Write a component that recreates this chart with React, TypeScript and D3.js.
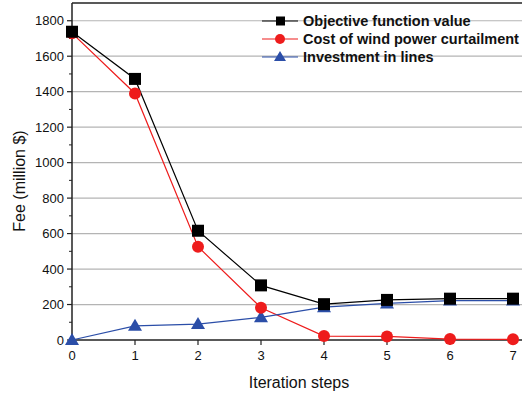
import { scaleLinear, line, range } from "d3";

const steps = [0, 1, 2, 3, 4, 5, 6, 7];
const objectiveValue = [1738, 1472, 616, 308, 202, 226, 233, 233];
const windCurtailment = [1730, 1390, 526, 182, 22, 20, 5, 4];
const lineInvestment = [0, 80, 90, 128, 185, 206, 222, 222];
const yTicks = [0, 200, 400, 600, 800, 1000, 1200, 1400, 1600, 1800];
const seriesNames = [
  "Objective function value",
  "Cost of wind power curtailment",
  "Investment in lines",
];

const W = 522;
const H = 396;
const left = 72;
const top = 3;
const bottom = 340;

export default function App() {
  const x = scaleLinear().domain([0, 7]).range([left, 513]);
  const y = scaleLinear().domain([0, 1900]).range([bottom, top]);

  const series = [
    { name: seriesNames[0], values: objectiveValue, color: "#000000", marker: "square" },
    { name: seriesNames[1], values: windCurtailment, color: "#ee1c1c", marker: "circle" },
    { name: seriesNames[2], values: lineInvestment, color: "#2b4ea8", marker: "triangle" },
  ];

  const path = line<number>()
    .x((_, i) => x(steps[i]))
    .y((d) => y(d));

  const marker = (kind: string, cx: number, cy: number, color: string, key: string) => {
    if (kind === "square")
      return <rect key={key} x={cx - 6} y={cy - 6} width={12} height={12} fill={color} />;
    if (kind === "circle") return <circle key={key} cx={cx} cy={cy} r={6} fill={color} />;
    return (
      <path
        key={key}
        d={`M${cx},${cy - 7}L${cx + 7},${cy + 5}L${cx - 7},${cy + 5}Z`}
        fill={color}
      />
    );
  };

  const minorY = range(100, 1900, 200);

  return (
    <svg
      width={W}
      height={H}
      style={{ position: "absolute", left: 0, top: 0, background: "#fff" }}
      fontFamily="Liberation Sans, Arial, sans-serif"
    >
      {/* grid */}
      {yTicks.slice(1).map((t) => (
        <line key={t} x1={left} x2={W} y1={y(t)} y2={y(t)} stroke="#b4b4b4" strokeWidth={1.2} />
      ))}
      {/* frame */}
      <line x1={left} x2={W} y1={top} y2={top} stroke="#222" strokeWidth={1.5} />
      <line x1={left} x2={W} y1={bottom} y2={bottom} stroke="#222" strokeWidth={1.5} />
      <line x1={left} x2={left} y1={top} y2={bottom} stroke="#222" strokeWidth={1.5} />

      {/* y ticks */}
      {yTicks.map((t) => (
        <g key={t}>
          <line x1={left - 5} x2={left} y1={y(t)} y2={y(t)} stroke="#222" strokeWidth={1.2} />
          <text x={left - 8} y={y(t)} dy="0.35em" textAnchor="end" fontSize={13} fill="#111">
            {t}
          </text>
        </g>
      ))}
      {minorY.map((t) => (
        <line key={t} x1={left - 3} x2={left} y1={y(t)} y2={y(t)} stroke="#222" strokeWidth={1} />
      ))}

      {/* x ticks */}
      {steps.map((s) => (
        <g key={s}>
          <line x1={x(s)} x2={x(s)} y1={bottom} y2={bottom + 5} stroke="#222" strokeWidth={1.2} />
          <text x={x(s)} y={bottom + 20} textAnchor="middle" fontSize={13} fill="#111">
            {s}
          </text>
        </g>
      ))}

      {/* axis titles */}
      <text x={299} y={388} textAnchor="middle" fontSize={16} fill="#111">
        Iteration steps
      </text>
      <text
        transform={`translate(25,181) rotate(-90)`}
        textAnchor="middle"
        fontSize={16}
        fill="#111"
      >
        Fee (million $)
      </text>

      {/* series */}
      {series.map((s) => (
        <path key={s.name} d={path(s.values) || ""} fill="none" stroke={s.color} strokeWidth={1.2} />
      ))}
      {[...series].reverse().map((s) =>
        s.values.map((v, i) => marker(s.marker, x(steps[i]), y(v), s.color, `${s.name}-${i}`))
      )}

      {/* legend */}
      {series.map((s, i) => {
        const ly = 21 + i * 18;
        return (
          <g key={s.name}>
            <line x1={262} x2={298} y1={ly} y2={ly} stroke={s.color} strokeWidth={1.2} />
            {s.marker === "square" && <rect x={276} y={ly - 4.5} width={9} height={9} fill={s.color} />}
            {s.marker === "circle" && <circle cx={280} cy={ly} r={5} fill={s.color} />}
            {s.marker === "triangle" && (
              <path d={`M280,${ly - 6}L286,${ly + 4}L274,${ly + 4}Z`} fill={s.color} />
            )}
            <text x={303} y={ly} dy="0.35em" fontSize={14.5} fontWeight="bold" fill="#111">
              {s.name}
            </text>
          </g>
        );
      })}
    </svg>
  );
}
